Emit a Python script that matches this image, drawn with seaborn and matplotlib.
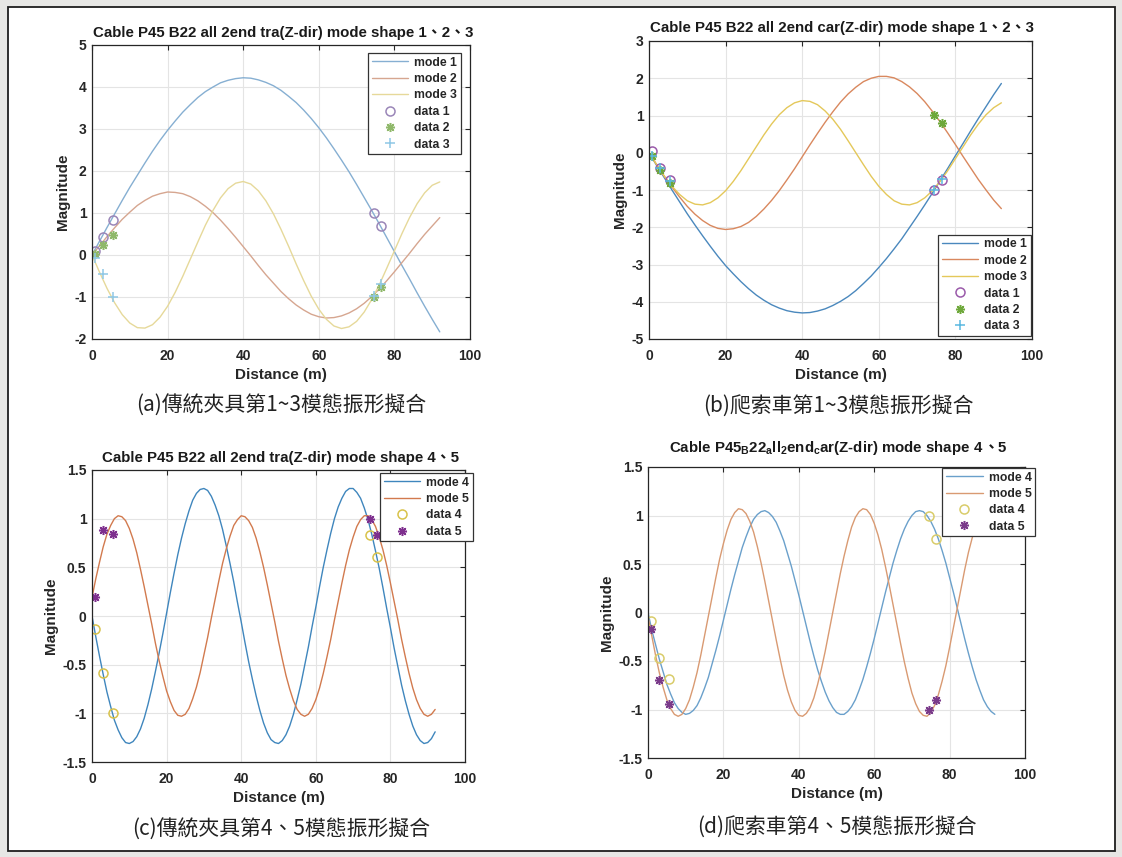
import matplotlib
matplotlib.use('Agg')
import seaborn as sns
import matplotlib.pyplot as plt
from matplotlib.patches import Rectangle
from matplotlib.offsetbox import TextArea, HPacker, AnchoredOffsetbox

# distance along the cable (m): 2 m steps for modes 1-3, 1 m steps for modes 4-5
dist = [0, 2, 4, 6, 8, 10, 12, 14, 16, 18, 20, 22, 24, 26, 28, 30, 32, 34, 36, 38, 40, 42, 44, 46,
        48, 50, 52, 54, 56, 58, 60, 62, 64, 66, 68, 70, 72, 74, 76, 78, 80, 82, 84, 86, 88, 90, 92]
dist_fine = [0, 1, 2, 3, 4, 5, 6, 7, 8, 9, 10, 11, 12, 13, 14, 15, 16, 17, 18, 19, 20, 21, 22, 23, 24,
             25, 26, 27, 28, 29, 30, 31, 32, 33, 34, 35, 36, 37, 38, 39, 40, 41, 42, 43, 44, 45, 46, 47,
             48, 49, 50, 51, 52, 53, 54, 55, 56, 57, 58, 59, 60, 61, 62, 63, 64, 65, 66, 67, 68, 69, 70,
             71, 72, 73, 74, 75, 76, 77, 78, 79, 80, 81, 82, 83, 84, 85, 86, 87, 88, 89, 90, 91, 92]

# (a) traditional clamp, modes 1-3
tra_mode1 = [0, 0.33, 0.66, 0.98, 1.30, 1.61, 1.90, 2.19, 2.47, 2.73, 2.97, 3.19, 3.40, 3.58, 3.75, 3.89,
             4.00, 4.10, 4.16, 4.20, 4.22, 4.21, 4.17, 4.11, 4.03, 3.92, 3.78, 3.63, 3.45, 3.25, 3.03, 2.79,
             2.53, 2.26, 1.98, 1.68, 1.37, 1.06, 0.74, 0.41, 0.08, -0.25, -0.57, -0.90, -1.22, -1.53, -1.83]
tra_mode2 = [0, 0.22, 0.44, 0.65, 0.85, 1.02, 1.18, 1.30, 1.40, 1.46, 1.50, 1.49, 1.46, 1.39, 1.29, 1.16,
             1.01, 0.83, 0.63, 0.42, 0.20, -0.02, -0.25, -0.47, -0.67, -0.87, -1.04, -1.19, -1.31, -1.41,
             -1.47, -1.50, -1.49, -1.45, -1.38, -1.28, -1.15, -0.99, -0.81, -0.61, -0.40, -0.18, 0.04, 0.27,
             0.49, 0.69, 0.89]
tra_mode3 = [0, -0.41, -0.80, -1.14, -1.42, -1.62, -1.73, -1.74, -1.66, -1.48, -1.22, -0.89, -0.51, -0.10,
             0.31, 0.71, 1.06, 1.36, 1.58, 1.71, 1.75, 1.69, 1.53, 1.29, 0.98, 0.61, 0.21, -0.21, -0.61,
             -0.98, -1.29, -1.53, -1.69, -1.75, -1.71, -1.58, -1.36, -1.06, -0.71, -0.31, 0.10, 0.51, 0.89,
             1.22, 1.48, 1.66, 1.74]

# (b) climbing car, modes 1-3
car_mode1 = [0, -0.34, -0.67, -1.00, -1.32, -1.64, -1.94, -2.23, -2.51, -2.78, -3.03, -3.25, -3.46, -3.65,
             -3.82, -3.96, -4.08, -4.17, -4.24, -4.28, -4.30, -4.29, -4.25, -4.19, -4.10, -3.99, -3.86,
             -3.70, -3.51, -3.31, -3.08, -2.84, -2.58, -2.31, -2.01, -1.71, -1.40, -1.08, -0.75, -0.42,
             -0.08, 0.25, 0.59, 0.92, 1.24, 1.56, 1.86]
car_mode2 = [0, -0.32, -0.63, -0.92, -1.19, -1.44, -1.65, -1.82, -1.95, -2.03, -2.06, -2.04, -1.98, -1.87,
             -1.71, -1.51, -1.28, -1.02, -0.73, -0.43, -0.11, 0.21, 0.52, 0.82, 1.10, 1.36, 1.58, 1.76, 1.91,
             2.00, 2.05, 2.05, 2.01, 1.91, 1.77, 1.59, 1.37, 1.11, 0.83, 0.53, 0.22, -0.10, -0.41, -0.72,
             -1.00, -1.27, -1.50]
car_mode3 = [0, -0.32, -0.63, -0.90, -1.12, -1.29, -1.38, -1.40, -1.34, -1.21, -1.02, -0.77, -0.48, -0.16,
             0.16, 0.48, 0.77, 1.02, 1.21, 1.34, 1.40, 1.38, 1.29, 1.12, 0.90, 0.63, 0.32, 0.00, -0.32,
             -0.63, -0.90, -1.12, -1.29, -1.38, -1.40, -1.34, -1.21, -1.02, -0.77, -0.48, -0.16, 0.16, 0.48,
             0.77, 1.02, 1.21, 1.34]

# (c) traditional clamp, modes 4-5 (1 m steps)
tra_mode4 = [0, -0.21, -0.41, -0.60, -0.78, -0.93, -1.07, -1.17, -1.25, -1.30, -1.31, -1.29, -1.24, -1.16,
             -1.05, -0.91, -0.75, -0.57, -0.38, -0.18, 0.03, 0.24, 0.44, 0.63, 0.80, 0.95, 1.08, 1.19, 1.26,
             1.30, 1.31, 1.29, 1.23, 1.14, 1.03, 0.89, 0.72, 0.54, 0.35, 0.14, -0.06, -0.27, -0.47, -0.65,
             -0.82, -0.97, -1.10, -1.20, -1.27, -1.30, -1.31, -1.28, -1.22, -1.13, -1.01, -0.86, -0.70,
             -0.51, -0.32, -0.11, 0.09, 0.30, 0.50, 0.68, 0.85, 1.00, 1.12, 1.21, 1.28, 1.31, 1.31, 1.27,
             1.21, 1.11, 0.99, 0.84, 0.67, 0.49, 0.29, 0.08, -0.12, -0.33, -0.52, -0.71, -0.87, -1.01,
             -1.13, -1.22, -1.28, -1.31, -1.30, -1.26, -1.19]
tra_mode5 = [0.19, 0.38, 0.55, 0.71, 0.84, 0.93, 1.00, 1.03, 1.02, 0.98, 0.90, 0.79, 0.65, 0.48, 0.30, 0.11,
             -0.08, -0.28, -0.46, -0.62, -0.77, -0.88, -0.97, -1.02, -1.03, -1.01, -0.95, -0.85, -0.73,
             -0.58, -0.40, -0.22, -0.02, 0.17, 0.36, 0.54, 0.69, 0.82, 0.93, 0.99, 1.03, 1.02, 0.98, 0.91,
             0.80, 0.66, 0.50, 0.32, 0.13, -0.06, -0.26, -0.44, -0.61, -0.75, -0.87, -0.96, -1.01, -1.03,
             -1.01, -0.95, -0.86, -0.74, -0.59, -0.42, -0.24, -0.04, 0.15, 0.34, 0.52, 0.68, 0.81, 0.92,
             0.99, 1.03, 1.03, 0.99, 0.92, 0.81, 0.68, 0.52, 0.34, 0.15, -0.04, -0.24, -0.42, -0.59, -0.74,
             -0.86, -0.95, -1.01, -1.03, -1.01, -0.96]

# (d) climbing car, modes 4-5 (1 m steps)
car_mode4 = [0, -0.18, -0.33, -0.48, -0.61, -0.74, -0.84, -0.93, -0.99, -1.03, -1.05, -1.04, -1.01, -0.96,
             -0.88, -0.78, -0.67, -0.53, -0.39, -0.24, -0.08, 0.08, 0.24, 0.39, 0.53, 0.67, 0.78, 0.88, 0.96,
             1.01, 1.04, 1.05, 1.03, 0.99, 0.93, 0.84, 0.74, 0.61, 0.48, 0.33, 0.18, 0.02, -0.14, -0.30,
             -0.45, -0.59, -0.71, -0.82, -0.91, -0.98, -1.03, -1.05, -1.05, -1.02, -0.97, -0.90, -0.80,
             -0.69, -0.56, -0.42, -0.27, -0.11, 0.05, 0.21, 0.36, 0.51, 0.64, 0.76, 0.86, 0.94, 1.00, 1.04,
             1.05, 1.04, 1.00, 0.94, 0.86, 0.76, 0.64, 0.51, 0.36, 0.21, 0.05, -0.11, -0.27, -0.42, -0.56,
             -0.69, -0.80, -0.90, -0.97, -1.02, -1.05]
car_mode5 = [-0.04, -0.24, -0.44, -0.62, -0.77, -0.90, -0.99, -1.05, -1.07, -1.05, -0.99, -0.90, -0.77,
             -0.62, -0.44, -0.24, -0.04, 0.16, 0.36, 0.55, 0.71, 0.85, 0.96, 1.03, 1.07, 1.06, 1.02, 0.94,
             0.83, 0.68, 0.51, 0.32, 0.12, -0.08, -0.28, -0.47, -0.65, -0.80, -0.92, -1.01, -1.06, -1.07,
             -1.04, -0.98, -0.88, -0.74, -0.58, -0.40, -0.20, 0.00, 0.20, 0.40, 0.58, 0.74, 0.88, 0.98, 1.04,
             1.07, 1.06, 1.01, 0.92, 0.80, 0.65, 0.47, 0.28, 0.08, -0.12, -0.32, -0.51, -0.68, -0.83, -0.94,
             -1.02, -1.06, -1.07, -1.03, -0.96, -0.85, -0.71, -0.55, -0.36, -0.16, 0.04, 0.24, 0.44, 0.62,
             0.77, 0.90, 0.99, 1.05, 1.07, 1.05, 0.99]

# measured points (sensor positions along the cable)
sensor_x = [0.8, 3.0, 5.5, 74.5, 76.5]
tra_data1 = [0.10, 0.42, 0.83, 1.00, 0.68]
tra_data2 = [0.03, 0.25, 0.48, -0.99, -0.75]
tra_data3 = [-0.08, -0.45, -0.99, -0.98, -0.70]
car_data1 = [0.06, -0.41, -0.72, -1.00, -0.72]
car_data2 = [-0.08, -0.46, -0.80, 1.02, 0.80]
car_data3 = [-0.10, -0.42, -0.75, -1.00, -0.70]
tra_data4 = [-0.13, -0.59, -1.00, 0.83, 0.61]
tra_data5 = [0.20, 0.88, 0.84, 1.00, 0.83]
car_data4 = [-0.09, -0.47, -0.69, 1.00, 0.76]
car_data5 = [-0.17, -0.70, -0.94, -1.00, -0.90]

sns.set_theme(style='white')
plt.rcParams['font.family'] = ['Liberation Sans', 'Noto Sans CJK TC', 'DejaVu Sans']
plt.rcParams['axes.unicode_minus'] = False
plt.rcParams['mathtext.fontset'] = 'custom'
plt.rcParams['mathtext.rm'] = 'Liberation Sans:bold'
plt.rcParams['mathtext.bf'] = 'Liberation Sans:bold'
plt.rcParams['mathtext.it'] = 'Liberation Sans:bold:italic'

W, H = 1122, 857
fig = plt.figure(figsize=(W / 100, H / 100), dpi=100)
fig.patch.set_facecolor('#e7e7e5')
fig.add_artist(Rectangle((8 / W, 1 - 851 / H), (1115 - 8) / W, (851 - 7) / H, transform=fig.transFigure,
                         facecolor='white', edgecolor='#1e1e1e', lw=1.3, zorder=-1))

ASTER = (8, 2, 0)
TITLE_FS = 10.8


def add_axes_px(l, t, r, b):
    return fig.add_axes([l / W, 1 - b / H, (r - l) / W, (b - t) / H])


def draw(ax, xs, modes, mode_cols, mode_names, data, data_cols, data_marks, data_names):
    for y, c, n in zip(modes, mode_cols, mode_names):
        sns.lineplot(x=xs, y=y, ax=ax, color=c, lw=1.0, label=n, estimator=None, sort=False)
    for y, c, m, n in zip(data, data_cols, data_marks, data_names):
        sns.lineplot(x=sensor_x, y=y, ax=ax, color=c, linestyle='', marker=m, ms=6.5, mec=c,
                     mfc='none', mew=1.1, label=n, estimator=None, sort=False)


def style(ax, ylim, yticks, loc, anchor):
    ax.set_xlim(0, 100)
    ax.set_ylim(*ylim)
    ax.set_xticks([0, 20, 40, 60, 80, 100])
    ax.set_xticklabels(['0', '20', '40', '60', '80', '100'])
    ax.set_yticks(yticks)
    ax.set_yticklabels([f'{v:g}' for v in yticks])
    ax.set_axisbelow(True)
    ax.grid(True, color='#e4e4e4', lw=0.8)
    ax.tick_params(direction='in', length=3.5, width=0.8, top=True, right=True, labelsize=10,
                   colors='#262626')
    ax.tick_params(axis='x', pad=7)
    ax.tick_params(axis='y', pad=4)
    for lab in ax.get_xticklabels() + ax.get_yticklabels():
        lab.set_fontweight('bold')
    for sp in ax.spines.values():
        sp.set_color('#262626')
        sp.set_linewidth(0.9)
    ax.set_xlabel('Distance (m)', fontsize=11, fontweight='bold', labelpad=4, color='#262626')
    ax.set_ylabel('Magnitude', fontsize=11, fontweight='bold', labelpad=3, color='#262626')
    leg = ax.legend(loc=loc, bbox_to_anchor=anchor, borderaxespad=0, frameon=True, fancybox=False,
                    framealpha=1, edgecolor='#333333', prop=dict(weight='bold', size=8.8),
                    handlelength=3.0, handletextpad=0.5, borderpad=0.3, labelspacing=0.36, numpoints=1)
    leg.get_frame().set_linewidth(0.9)


def title_px(x, y, s):
    fig.text(x / W, 1 - y / H, s, ha='center', va='center', fontsize=TITLE_FS, fontweight='bold',
             color='#1a1a1a')


def caption_px(x, y, s):
    fig.text(x / W, 1 - y / H, s, ha='center', va='center', fontsize=15,
             family=['Noto Sans CJK TC', 'DejaVu Sans'], fontweight='light', color='#222222')


# (a)
ax = add_axes_px(92, 45, 470, 339)
draw(ax, dist, [tra_mode1, tra_mode2, tra_mode3], ['#86afd2', '#d6a690', '#e6d99a'],
     ['mode 1', 'mode 2', 'mode 3'],
     [tra_data1, tra_data2, tra_data3], ['#9a86b8', '#8fb86a', '#8fc8e6'], ['o', ASTER, '+'],
     ['data 1', 'data 2', 'data 3'])
style(ax, (-2, 5), [-2, -1, 0, 1, 2, 3, 4, 5], 'upper right', (0.976, 0.973))
title_px(283, 33, 'Cable P45 B22 all 2end tra(Z-dir) mode shape 1、2、3')
caption_px(281, 406, '(a)傳統夾具第1~3模態振形擬合')

# (b)
ax = add_axes_px(649, 41, 1032, 339)
draw(ax, dist, [car_mode1, car_mode2, car_mode3], ['#4a88bd', '#d9885e', '#e4c85a'],
     ['mode 1', 'mode 2', 'mode 3'],
     [car_data1, car_data2, car_data3], ['#9a5aaa', '#6ea83a', '#5ab8e0'], ['o', ASTER, '+'],
     ['data 1', 'data 2', 'data 3'])
style(ax, (-5, 3), [-5, -4, -3, -2, -1, 0, 1, 2, 3], 'lower right', (0.997, 0.01))
title_px(842, 28, 'Cable P45 B22 all 2end car(Z-dir) mode shape 1、2、3')
caption_px(838, 406, '(b)爬索車第1~3模態振形擬合')

# (c)
ax = add_axes_px(92, 470, 465, 762)
draw(ax, dist_fine, [tra_mode4, tra_mode5], ['#3f86bd', '#d27a4e'], ['mode 4', 'mode 5'],
     [tra_data4, tra_data5], ['#d8c24a', '#7e2f8e'], ['o', ASTER], ['data 4', 'data 5'])
style(ax, (-1.5, 1.5), [-1.5, -1, -0.5, 0, 0.5, 1, 1.5], 'upper right', (1.021, 0.99))
title_px(281, 458, 'Cable P45 B22 all 2end tra(Z-dir) mode shape 4、5')
caption_px(281, 830, '(c)傳統夾具第4、5模態振形擬合')

# (d)
ax = add_axes_px(648, 467, 1025, 758)
draw(ax, dist_fine, [car_mode4, car_mode5], ['#6aa0cb', '#d99a72'], ['mode 4', 'mode 5'],
     [car_data4, car_data5], ['#d9cc6a', '#7a3a8a'], ['o', ASTER], ['data 4', 'data 5'])
style(ax, (-1.5, 1.5), [-1.5, -1, -0.5, 0, 0.5, 1, 1.5], 'upper right', (1.027, 0.997))
p1 = TextArea(r'Cable P45$_\mathbf{B}$22$_\mathbf{a}$ll$_\mathbf{2}$end$_\mathbf{c}$ar(Z-dir) mode shape 4',
              textprops=dict(fontsize=TITLE_FS, fontweight='bold', color='#1a1a1a'))
p2 = TextArea('、5', textprops=dict(fontsize=TITLE_FS, fontweight='bold', color='#1a1a1a'))
box = HPacker(children=[p1, p2], align='baseline', pad=0, sep=0)
fig.add_artist(AnchoredOffsetbox(loc='center', child=box, pad=0, borderpad=0, frameon=False,
                                 bbox_to_anchor=(838 / W, 1 - 448 / H), bbox_transform=fig.transFigure))
caption_px(837, 827, '(d)爬索車第4、5模態振形擬合')

fig.savefig('out.png', dpi=100, facecolor=fig.get_facecolor())
